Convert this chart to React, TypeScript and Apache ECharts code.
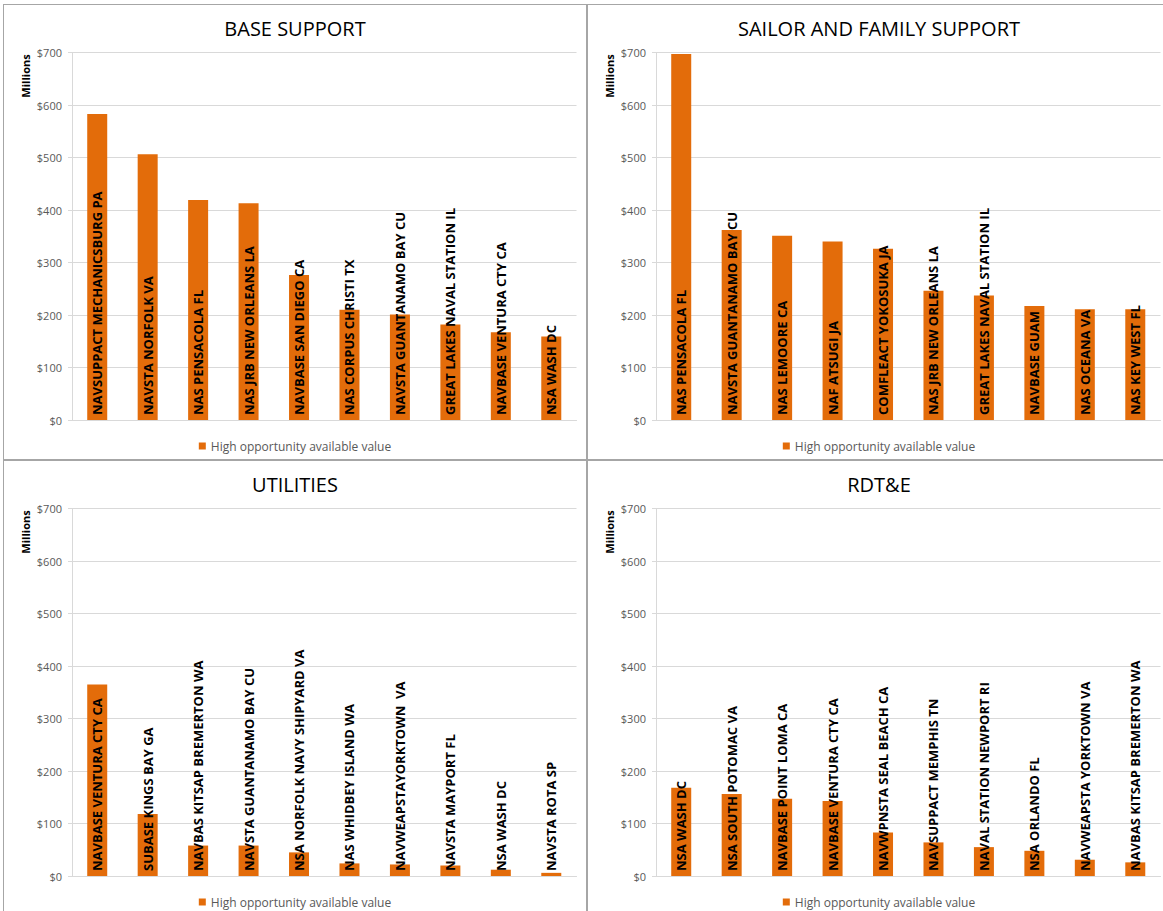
import React, { useEffect, useRef } from "react";
import * as echarts from "echarts";

// Installations and high-opportunity values ($ millions) per category
const baseSupportSites = [
  "NAVSUPPACT MECHANICSBURG PA",
  "NAVSTA NORFOLK VA",
  "NAS PENSACOLA FL",
  "NAS JRB NEW ORLEANS LA",
  "NAVBASE SAN DIEGO CA",
  "NAS CORPUS CHRISTI TX",
  "NAVSTA GUANTANAMO BAY CU",
  "GREAT LAKES NAVAL STATION IL",
  "NAVBASE VENTURA CTY CA",
  "NSA WASH DC",
];
const baseSupportValues = [583, 506, 419, 413, 276, 210, 201, 182, 167, 159];

const sailorFamilySites = [
  "NAS PENSACOLA FL",
  "NAVSTA GUANTANAMO BAY CU",
  "NAS LEMOORE CA",
  "NAF ATSUGI JA",
  "COMFLEACT YOKOSUKA JA",
  "NAS JRB NEW ORLEANS LA",
  "GREAT LAKES NAVAL STATION IL",
  "NAVBASE GUAM",
  "NAS OCEANA VA",
  "NAS KEY WEST FL",
];
const sailorFamilyValues = [697, 362, 351, 340, 326, 246, 237, 217, 211, 211];

const utilitiesSites = [
  "NAVBASE VENTURA CTY CA",
  "SUBASE KINGS BAY GA",
  "NAVBAS KITSAP BREMERTON WA",
  "NAVSTA GUANTANAMO BAY CU",
  "NSA NORFOLK NAVY SHIPYARD VA",
  "NAS WHIDBEY ISLAND WA",
  "NAVWEAPSTAYORKTOWN  VA",
  "NAVSTA MAYPORT FL",
  "NSA WASH DC",
  "NAVSTA ROTA SP",
];
const utilitiesValues = [365, 118, 58, 58, 45, 24, 22, 20, 12, 6];

const rdteSites = [
  "NSA WASH DC",
  "NSA SOUTH POTOMAC VA",
  "NAVBASE POINT LOMA CA",
  "NAVBASE VENTURA CTY CA",
  "NAVWPNSTA SEAL BEACH CA",
  "NAVSUPPACT MEMPHIS TN",
  "NAVAL STATION NEWPORT RI",
  "NSA ORLANDO FL",
  "NAVWEAPSTA YORKTOWN VA",
  "NAVBAS KITSAP BREMERTON WA",
];
const rdteValues = [168, 156, 147, 143, 83, 64, 55, 48, 31, 26];

const panelTitles = ["BASE SUPPORT", "SAILOR AND FAMILY SUPPORT", "UTILITIES", "RDT&E"];
const seriesName = "High opportunity available value";
const yTicks = { min: 0, max: 700, interval: 100 };

const FONT = "'Open Sans', 'Noto Sans', sans-serif";
const BAR = "#E36C0A";
const GRID = "#D9D9D9";
const AXIS_TEXT = "#595959";

type PanelProps = {
  title: string;
  sites: string[];
  values: number[];
  left: number;
  top: number;
};

function Panel({ title, sites, values, left, top }: PanelProps) {
  const ref = useRef<HTMLDivElement>(null);

  useEffect(() => {
    if (!ref.current) return;
    const chart = echarts.init(ref.current, null, { renderer: "svg" });
    chart.setOption({
      animation: false,
      title: {
        text: title,
        left: "center",
        top: 8,
        textStyle: { fontFamily: FONT, fontSize: 20, fontWeight: "normal", color: "#000" },
      },
      legend: {
        data: [seriesName],
        left: "center",
        top: 430,
        icon: "rect",
        itemWidth: 7,
        itemHeight: 7,
        itemGap: 5,
        textStyle: { fontFamily: FONT, fontSize: 12, color: AXIS_TEXT },
      },
      grid: { left: 68, right: 9.5, top: 47.5, bottom: 39, containLabel: false },
      graphic: [
        {
          type: "text",
          x: 21,
          y: 71,
          rotation: Math.PI / 2,
          style: {
            text: "Millions",
            fontFamily: FONT,
            fontSize: 11,
            fontWeight: "bold",
            fill: "#000",
            align: "center",
            verticalAlign: "middle",
          },
        },
      ],
      xAxis: {
        type: "category",
        data: sites,
        axisLine: { show: true, lineStyle: { color: GRID } },
        axisTick: { show: false },
        axisLabel: { show: false },
      },
      yAxis: {
        type: "value",
        min: yTicks.min,
        max: yTicks.max,
        interval: yTicks.interval,
        axisLine: { show: true, lineStyle: { color: GRID } },
        axisTick: { show: true, length: 4, lineStyle: { color: GRID } },
        splitLine: { show: true, lineStyle: { color: GRID, width: 1 } },
        axisLabel: {
          formatter: (v: number) => "$" + v,
          margin: 10,
          fontFamily: FONT,
          fontSize: 11,
          color: AXIS_TEXT,
        },
      },
      series: [
        {
          name: seriesName,
          type: "bar",
          data: values,
          barWidth: 20,
          itemStyle: { color: BAR },
          label: {
            show: true,
            position: "insideBottom",
            distance: 5,
            rotate: 90,
            align: "left",
            verticalAlign: "middle",
            formatter: "{b}",
            fontFamily: FONT,
            fontSize: 13,
            fontWeight: "bold",
            color: "#000",
          },
        },
      ],
    });
    return () => chart.dispose();
  }, [title, sites, values]);

  return (
    <div
      style={{
        position: "absolute",
        left,
        top,
        width: 584,
        height: 456,
        boxSizing: "border-box",
        border: "1px solid #A6A6A6",
        background: "#fff",
      }}
    >
      <div ref={ref} style={{ width: 582, height: 454 }} />
    </div>
  );
}

export default function App() {
  const panels = [
    { sites: baseSupportSites, values: baseSupportValues },
    { sites: sailorFamilySites, values: sailorFamilyValues },
    { sites: utilitiesSites, values: utilitiesValues },
    { sites: rdteSites, values: rdteValues },
  ];
  return (
    <div
      style={{
        position: "fixed",
        left: 0,
        top: 0,
        width: 1163,
        height: 911,
        overflow: "hidden",
        background: "#fff",
      }}
    >
      {panels.map((p, i) => (
        <Panel
          key={panelTitles[i]}
          title={panelTitles[i]}
          sites={p.sites}
          values={p.values}
          left={3 + (i % 2) * 584}
          top={4 + Math.floor(i / 2) * 456}
        />
      ))}
    </div>
  );
}
